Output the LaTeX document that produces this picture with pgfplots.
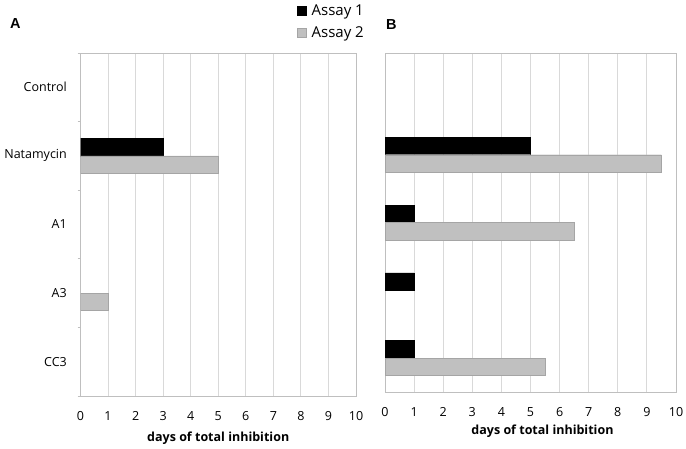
\documentclass[border=0pt]{standalone}
\usepackage{pgfplots}
\pgfplotsset{compat=1.18}
\usepackage{fontspec}
\setmainfont{Open Sans}
\newfontfamily\panelfont{Liberation Sans}
\definecolor{gridgray}{RGB}{217,217,217}
\definecolor{axisgray}{RGB}{191,191,191}
\definecolor{barfill}{RGB}{192,192,192}
\definecolor{baredge}{RGB}{165,165,165}
\pgfplotsset{
  common/.style={
    scale only axis,
    anchor=south west,
    xmin=0, xmax=10, ymin=-0.5, ymax=4.5,
    xbar, bar width=17.5pt,
    xtick={0,...,10},
    xmajorgrids,
    grid style={draw=gridgray, line width=0.9pt},
    axis line style={draw=axisgray, line width=0.9pt},
    major tick length=0pt,
    tick align=outside,
    tick pos=left,
    /pgf/number format/assume math mode=true,
    ticklabel style={font=\fontsize{12.5}{14}\selectfont},
    xticklabel style={inner sep=0pt, yshift=-15pt},
    x filter/.expression={x==0 ? nan : x},
    unbounded coords=discard,
    label style={font=\bfseries\fontsize{12.5}{14}\selectfont},
    xlabel={days of total inhibition},
  },
  a1/.style={fill=black, draw=black, bar shift=8.75pt},
  a2/.style={fill=barfill, draw=baredge, bar shift=-8.75pt},
}
\begin{document}
\begin{tikzpicture}
\useasboundingbox (0,0) rectangle (686pt,448pt);
\node[anchor=base west, inner sep=0pt, font=\panelfont\bfseries\fontsize{14.5}{16}\selectfont] at (10pt,419pt) {A};
\node[anchor=base west, inner sep=0pt, font=\panelfont\bfseries\fontsize{14.5}{16}\selectfont] at (386pt,418pt) {B};
% Panel A
\begin{axis}[common,
  at={(80.5pt,52pt)},
  width=275.5pt, height=343pt,
  ytick={0,...,4},
  yticklabels={CC3,A3,A1,Natamycin,Control},
  yticklabel style={inner sep=0pt, xshift=-13.5pt},
  minor ytick={-0.5,0.5,...,4.5},
  minor tick length=3pt,
  minor tick style={draw=axisgray, line width=0.9pt},
  xlabel style={at={(axis description cs:0.5,0)}, anchor=base, yshift=-45.5pt},
  legend style={at={(rel axis cs:0.786,1.142)}, anchor=north west, draw=none, fill=none,
    inner sep=0pt, row sep=10pt, font=\fontsize{15}{17}\selectfont,
    nodes={inner sep=0pt}},
  legend cell align=left,
  legend image code/.code={\path[#1] (0pt,-4.5pt) rectangle (9pt,4.5pt);},
  legend style={/tikz/every odd column/.append style={column sep=5pt}},
]
\addplot[a1] coordinates {(0,4) (3,3) (0,2) (0,1) (0,0)};
\addlegendentry{Assay 1}
\addplot[a2] coordinates {(0,4) (5,3) (0,2) (1,1) (0,0)};
\addlegendentry{Assay 2}
\end{axis}
% Panel B
\begin{axis}[common,
  at={(385pt,56pt)},
  width=291pt, height=339pt,
  ytick=\empty,
  xlabel style={at={(axis description cs:0.5,0)}, anchor=base, yshift=-42pt, xshift=12pt},
]
\addplot[a1] coordinates {(0,4) (5,3) (1,2) (1,1) (1,0)};
\addplot[a2] coordinates {(0,4) (9.5,3) (6.5,2) (0,1) (5.5,0)};
\end{axis}
\end{tikzpicture}
\end{document}
